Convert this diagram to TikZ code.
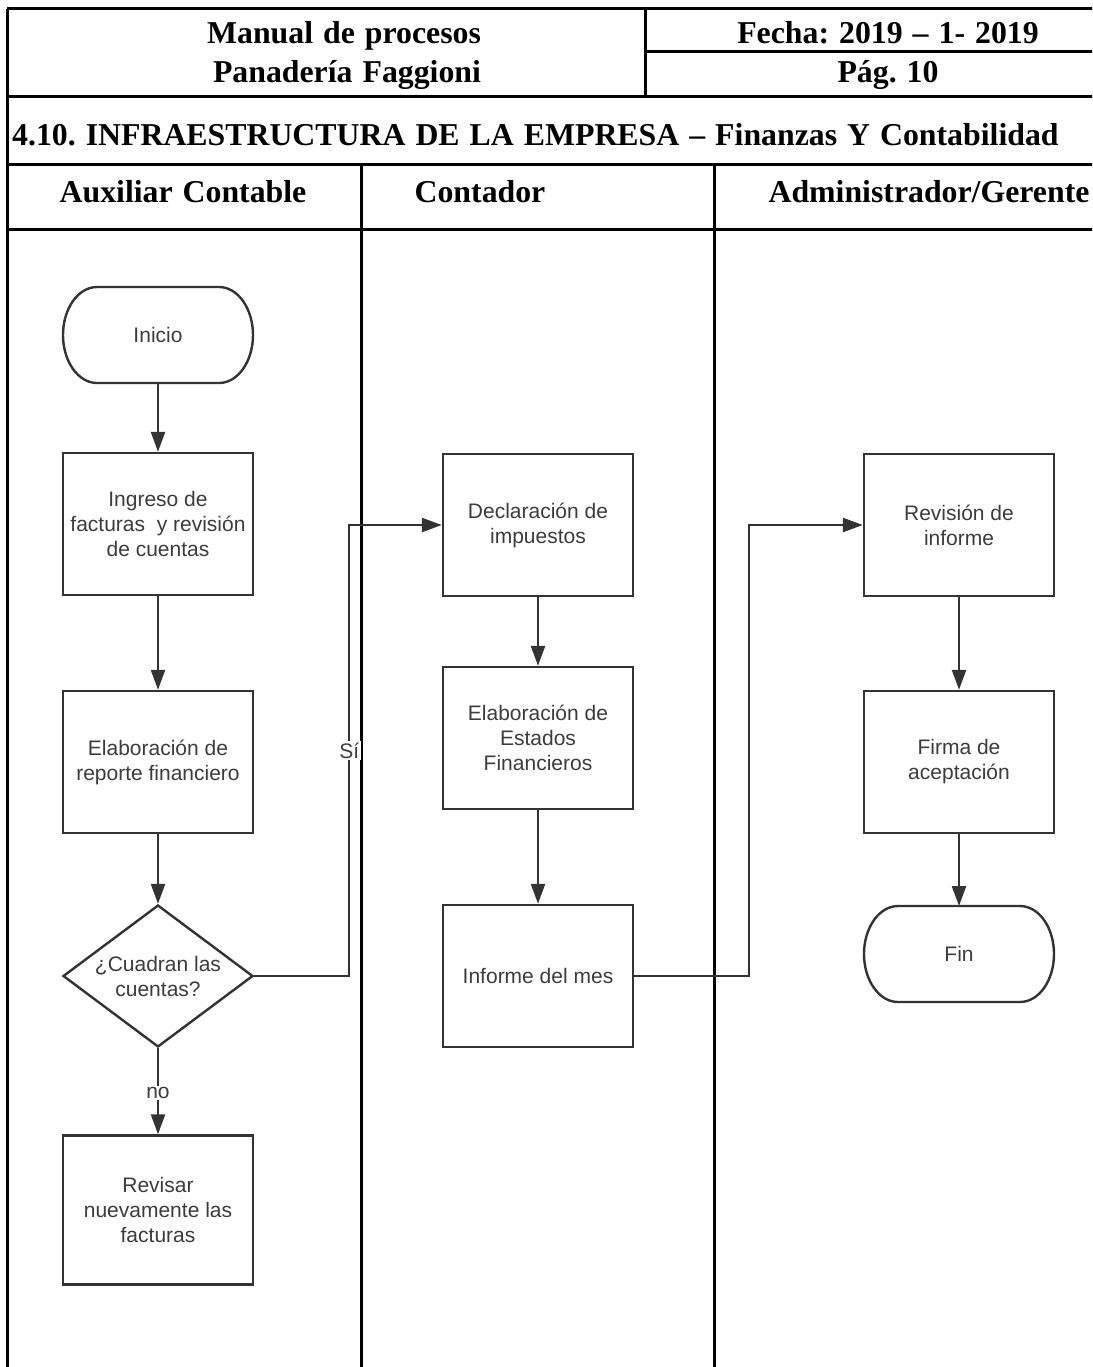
\documentclass[tikz,border=0pt]{standalone}
\usepackage{fontspec}
\setmainfont{Liberation Serif}
\newfontfamily\flowfont{Liberation Sans}
\usetikzlibrary{arrows.meta,shapes.geometric}
\definecolor{flowgray}{HTML}{333333}
\definecolor{flowtext}{HTML}{3C3C3C}
\frenchspacing
\newlength{\hdrspace}
\setlength{\hdrspace}{10pt plus 1pt minus 1pt}
\newcommand{\hdrfont}{\bfseries\fontsize{31.8}{36}\selectfont\spaceskip=\hdrspace\relax}

\begin{document}
\begin{tikzpicture}[x=1pt,y=-1pt,
  rule/.style={line width=3pt, black},
  hdr/.style={font=\hdrfont, anchor=base, inner sep=0pt},
  flowbase/.style={line width=2.4pt, text=flowtext, align=center,
    font=\flowfont\fontsize{21}{25}\selectfont},
  proc/.style={flowbase, draw=flowgray, minimum width=190pt, minimum height=142pt, inner sep=2pt},
  terminal/.style={flowbase, draw=none, minimum width=190pt, minimum height=96pt,
    inner sep=2pt, outer sep=0pt},
  decision/.style={flowbase, draw=flowgray, diamond, shape aspect=1.34,
    minimum width=190pt, minimum height=142pt, inner sep=0pt},
  arrow/.style={draw=flowgray, line width=2.4pt, -{Triangle[length=20pt,width=14pt]}},
  lbl/.style={fill=white, text=flowtext, inner sep=1.5pt, font=\flowfont\fontsize{21}{25}\selectfont}
]
\useasboundingbox (0,0) rectangle (1092,1367);
\fill[white] (0,0) rectangle (1092,1367);
\clip (0,0) rectangle (1092,1367);

% ---- table frame ----
\draw[rule] (7,9) -- (1100,9);
\draw[rule] (7,9) -- (7,1370);
\draw[rule] (645,9) -- (645,97);
\draw[rule] (645,52) -- (1100,52);
\draw[rule] (7,97) -- (1100,97);
\draw[rule] (7,165) -- (1100,165);
\draw[rule] (7,229) -- (1100,229);
\draw[rule] (361,165) -- (361,1370);
\draw[rule] (714,165) -- (714,1370);

% ---- header texts ----
\node[hdr] (tman) at (344,44) {Manual de procesos};
\node[hdr] (tpan) at (347,83) {Panadería Faggioni};
\node[hdr] (tfec) at (888,44) {Fecha: 2019 – 1- 2019};
\node[hdr] (tpag) at (888,83) {Pág. 10};
\node[hdr, anchor=base west] (ttit) at (12,146) {4.10. INFRAESTRUCTURA DE LA EMPRESA – Finanzas Y Contabilidad};
\node[hdr] (laux) at (183,202) {Auxiliar Contable};
\node[hdr] (lcon) at (480,202) {Contador};
\node[hdr] (ladm) at (929,202) {Administrador/Gerente};

% ---- flowchart nodes ----
\node[terminal] (inicio) at (158,335) {Inicio};
\node[proc] (ingreso) at (158,524) {Ingreso de\\facturas\ \ y revisión\\de cuentas};
\node[proc] (reporte) at (158,762) {Elaboración de\\reporte financiero};
\node[decision] (cuadran) at (158,976) {¿Cuadran las\\cuentas?};
\node[proc, minimum height=149pt] (revisar) at (158,1210) {Revisar\\nuevamente las\\facturas};

\node[proc] (declara) at (538,525) {Declaración de\\impuestos};
\node[proc] (estados) at (538,738) {Elaboración de\\Estados\\Financieros};
\node[proc] (informe) at (538,976) {Informe del mes};

\node[proc] (revinf) at (959,525) {Revisión de\\informe};
\node[proc] (firma) at (959,762) {Firma de\\aceptación};
\node[terminal] (fin) at (959,954) {Fin};

% terminator outlines with elliptical ends
\foreach \t in {inicio,fin}{
  \draw[draw=flowgray, line width=2.4pt, line join=round]
    ([xshift=34pt]\t.north west) -- ([xshift=-34pt]\t.north east)
    arc[start angle=90, end angle=-90, x radius=34pt, y radius=48pt]
    -- ([xshift=34pt]\t.south west)
    arc[start angle=270, end angle=90, x radius=34pt, y radius=48pt] -- cycle;
}

% ---- connectors ----
\draw[arrow] (inicio) -- (ingreso);
\draw[arrow] (ingreso) -- (reporte);
\draw[arrow] (reporte) -- (cuadran);
\draw[arrow] (cuadran.south) -- node[lbl, pos=0.52] {no} (revisar.north);
\draw[arrow] (cuadran.east) -- ++(95,0) |- node[lbl, pos=0.25] {Sí} (declara.west);
\draw[arrow] (declara) -- (estados);
\draw[arrow] (estados) -- (informe);
\draw[arrow] (informe.east) -- ++(115,0) |- (revinf.west);
\draw[arrow] (revinf) -- (firma);
\draw[arrow] (firma) -- (fin);
\end{tikzpicture}
\end{document}
